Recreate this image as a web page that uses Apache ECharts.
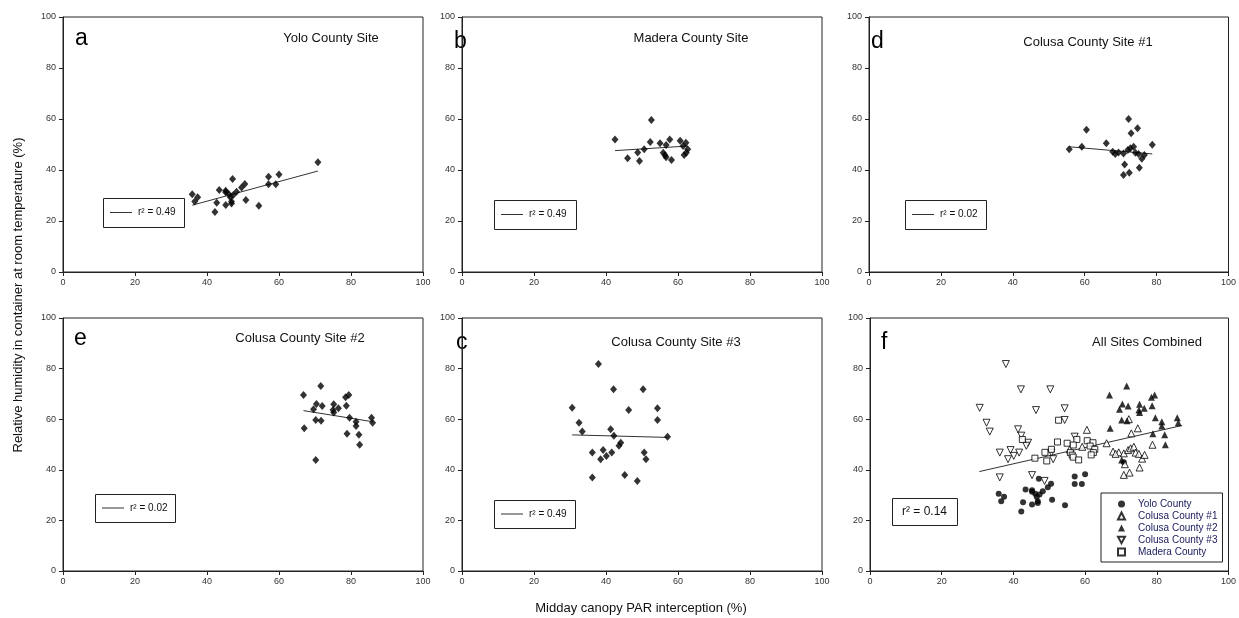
<!DOCTYPE html>
<html>
<head>
<meta charset="utf-8">
<script src="https://cdn.jsdelivr.net/npm/echarts@6/dist/echarts.min.js"></script>
<style>
html,body{margin:0;padding:0;background:#fff}
#main{width:1239px;height:618px}
</style>
</head>
<body>
<div id="main"></div>
<script>
// site data (x = midday PAR interception %, y = relative humidity %)
var yoloX = [70.8,35.9,37.4,36.6,47.1,43.4,45.2,45.2,50.5,49.6,48.2,47.3,46.5,46.8,50.8,42.7,45.2,46.8,42.2,54.4,57.1,60.0,57.1,59.1,46.1];
var yoloY = [43.0,30.5,29.3,27.6,36.5,32.2,31.9,31.3,34.5,33.1,31.5,30.2,29.3,27.6,28.2,27.2,26.3,26.9,23.5,26.0,37.4,38.2,34.4,34.4,30.5];

var maderaX = [52.6,42.5,52.3,55.0,57.7,56.7,60.6,62.2,61.4,62.7,62.3,61.7,50.6,48.8,55.9,56.4,56.7,58.2,46.0,49.3];
var maderaY = [59.6,52.0,51.0,50.5,52.0,49.8,51.5,50.7,49.4,48.1,46.8,45.9,48.1,46.9,46.8,45.8,45.0,43.9,44.6,43.5];

var colusa1X = [72.2,60.5,74.7,72.9,55.7,59.2,66.0,78.8,67.8,69.4,70.8,72.0,72.7,73.6,74.1,75.0,75.9,76.6,71.1,75.2,70.8,72.4,68.5];
var colusa1Y = [60.0,55.8,56.4,54.4,48.1,49.1,50.5,49.9,47.2,46.9,46.5,47.8,48.5,49.1,46.8,46.3,44.4,45.9,42.2,40.9,38.0,38.9,46.3];

var colusa2X = [71.6,66.8,79.4,78.5,70.4,72.0,75.2,78.7,69.6,75.0,76.5,75.2,70.2,71.7,79.6,81.4,81.4,85.7,86.0,67.0,78.9,82.2,82.4,70.2];
var colusa2Y = [73.1,69.6,69.6,68.7,66.0,65.2,65.9,65.3,63.9,63.6,64.3,62.6,59.7,59.4,60.6,59.0,57.3,60.6,58.6,56.4,54.2,53.9,49.9,43.9];

var colusa3X = [37.9,42.1,50.3,30.6,46.3,54.3,54.3,32.5,33.4,41.3,42.2,57.1,44.1,43.6,36.2,39.2,40.1,38.5,41.6,50.6,51.1,36.2,45.2,48.7];
var colusa3Y = [81.8,71.8,71.8,64.5,63.6,64.3,59.7,58.6,55.1,56.0,53.5,53.1,50.7,49.5,46.8,47.8,45.5,44.2,46.8,46.8,44.2,37.0,37.9,35.6];

// regression line end points
var fitA = [[35.9,26.2],[70.8,39.6]];
var fitB = [[42.5,47.6],[62.7,49.4]];
var fitD = [[55.7,49.1],[78.8,46.3]];
var fitE = [[66.8,63.4],[86.0,59.0]];
var fitC = [[30.6,53.8],[57.1,52.8]];
var fitF = [[30.5,39.3],[87.0,57.5]];

var letters = ['a','b','d','e','c','f'];
var titles = ['Yolo County Site','Madera County Site','Colusa County Site #1','Colusa County Site #2','Colusa County Site #3','All Sites Combined'];
var r2Labels = ['r\u00b2 = 0.49','r\u00b2 = 0.49','r\u00b2 = 0.02','r\u00b2 = 0.02','r\u00b2 = 0.49','r\u00b2 = 0.14'];
var siteNames = ['Yolo County','Colusa County #1','Colusa County #2','Colusa County #3','Madera County'];
var ticks = [0,20,40,60,80,100];

var FONT = '"Liberation Sans", Arial, sans-serif';

function zip(xs, ys){
    var out = [];
    for (var i = 0; i < xs.length; i++) out.push([xs[i], ys[i]]);
    return out;
}

// panel layout
var gridPos = [
    {left:63, top:17, width:360, height:255},
    {left:462, top:17, width:360, height:255},
    {left:869, top:17, width:361, height:255},
    {left:63, top:318, width:360, height:253},
    {left:462, top:318, width:360, height:253},
    {left:870, top:318, width:360, height:253}
];

var grids = [], xAxes = [], yAxes = [], series = [], graphics = [];

for (var g = 0; g < 6; g++){
    grids.push({
        left:gridPos[g].left, top:gridPos[g].top, width:gridPos[g].width, height:gridPos[g].height,
        show:true, borderColor:'#222', borderWidth:1, backgroundColor:'transparent'
    });
    var ax = {
        gridIndex:g, type:'value', min:ticks[0], max:ticks[ticks.length-1], interval:20,
        axisLine:{show:true, onZero:false, lineStyle:{color:'#222', width:1}},
        axisTick:{show:true, inside:false, length:4, lineStyle:{color:'#222'}},
        axisLabel:{fontSize:9, color:'#333', fontFamily:FONT, margin:6},
        splitLine:{show:false}
    };
    xAxes.push(ax);
    var ay = JSON.parse(JSON.stringify(ax));
    ay.axisLabel.margin = 7;
    yAxes.push(ay);
}

var single = [
    [yoloX, yoloY, fitA],
    [maderaX, maderaY, fitB],
    [colusa1X, colusa1Y, fitD],
    [colusa2X, colusa2Y, fitE],
    [colusa3X, colusa3Y, fitC]
];

for (var i = 0; i < 5; i++){
    series.push({
        type:'scatter', xAxisIndex:i, yAxisIndex:i, silent:true,
        symbol:'diamond', symbolSize:[7,8],
        itemStyle:{color:'#000'},
        data:zip(single[i][0], single[i][1])
    });
    series.push({
        type:'line', xAxisIndex:i, yAxisIndex:i, silent:true,
        symbol:'none', lineStyle:{color:'#333', width:1}, z:1,
        data:single[i][2]
    });
}

// combined panel
var downTri = 'path://M0,0L10,0L5,9Z';
var fSets = [
    {name:siteNames[0], d:zip(yoloX, yoloY), symbol:'circle', size:6, style:{color:'#000'}},
    {name:siteNames[1], d:zip(colusa1X, colusa1Y), symbol:'triangle', size:7, style:{color:'#fff', borderColor:'#000', borderWidth:1}},
    {name:siteNames[2], d:zip(colusa2X, colusa2Y), symbol:'triangle', size:7, style:{color:'#000'}},
    {name:siteNames[3], d:zip(colusa3X, colusa3Y), symbol:downTri, size:7, style:{color:'#fff', borderColor:'#000', borderWidth:1}},
    {name:siteNames[4], d:zip(maderaX, maderaY), symbol:'rect', size:6, style:{color:'#fff', borderColor:'#000', borderWidth:1}}
];
fSets.forEach(function(s){
    series.push({
        type:'scatter', name:s.name, xAxisIndex:5, yAxisIndex:5, silent:true,
        symbol:s.symbol, symbolSize:s.size, itemStyle:s.style, data:s.d
    });
});
series.push({
    type:'line', xAxisIndex:5, yAxisIndex:5, silent:true,
    symbol:'none', lineStyle:{color:'#333', width:1}, z:1, data:fitF
});

// letters and titles
var letterPos = [[75,27],[454,30],[871,30],[74,327],[456,331],[881,331]];
var titlePos = [[331,38],[691,38],[1088,42],[300,338],[676,342],[1147,342]];
for (var k = 0; k < 6; k++){
    graphics.push({type:'text', left:letterPos[k][0], top:letterPos[k][1],
        style:{text:letters[k], font:'23px ' + FONT, fill:'#000'}});
    graphics.push({type:'text', x:titlePos[k][0], y:titlePos[k][1],
        style:{text:titles[k], font:'13px ' + FONT, fill:'#111', align:'center', verticalAlign:'middle'}});
}

// r2 boxes
var boxPos = [[103,198,81,29],[494,200,82,29],[905,200,81,29],[95,494,80,28],[494,500,81,28],[892,498,65,27]];
for (var b = 0; b < 6; b++){
    var bx = boxPos[b];
    graphics.push({type:'rect', shape:{x:bx[0]+0.5, y:bx[1]+0.5, width:bx[2], height:bx[3]},
        style:{fill:'#fff', stroke:'#222', lineWidth:1}, z:10});
    if (b < 5){
        graphics.push({type:'line', shape:{x1:bx[0]+7, y1:bx[1]+bx[3]/2, x2:bx[0]+29, y2:bx[1]+bx[3]/2},
            style:{stroke:'#333', lineWidth:1}, z:11});
        graphics.push({type:'text', x:bx[0]+35, y:bx[1]+bx[3]/2,
            style:{text:r2Labels[b], font:'10px ' + FONT, fill:'#111', verticalAlign:'middle'}, z:11});
    } else {
        graphics.push({type:'text', x:bx[0]+bx[2]/2, y:bx[1]+bx[3]/2,
            style:{text:r2Labels[b], font:'12px ' + FONT, fill:'#111', align:'center', verticalAlign:'middle'}, z:11});
    }
}

// shared axis names
graphics.push({type:'text', x:18, y:295, rotation:Math.PI/2,
    style:{text:'Relative humidity in container at room temperature (%)', font:'13px ' + FONT, fill:'#111', align:'center', verticalAlign:'middle'}});
graphics.push({type:'text', x:641, y:608,
    style:{text:'Midday canopy PAR interception (%)', font:'13px ' + FONT, fill:'#111', align:'center', verticalAlign:'middle'}});

var option = {
    animation:false,
    backgroundColor:'#fff',
    grid:grids,
    xAxis:xAxes,
    yAxis:yAxes,
    legend:{
        show:true, orient:'vertical', left:1101, top:493,
        data:siteNames, selectedMode:false,
        itemWidth:7, itemHeight:7, itemGap:2, symbolKeepAspect:true,
        padding:[6,5,5,16],
        borderColor:'#222', borderWidth:1, backgroundColor:'#fff',
        textStyle:{fontSize:10, color:'#202060', fontFamily:FONT, padding:[0,0,0,8]}
    },
    graphic:graphics,
    series:series
};

var chart = echarts.init(document.getElementById('main'));
chart.setOption(option);
</script>
</body>
</html>
